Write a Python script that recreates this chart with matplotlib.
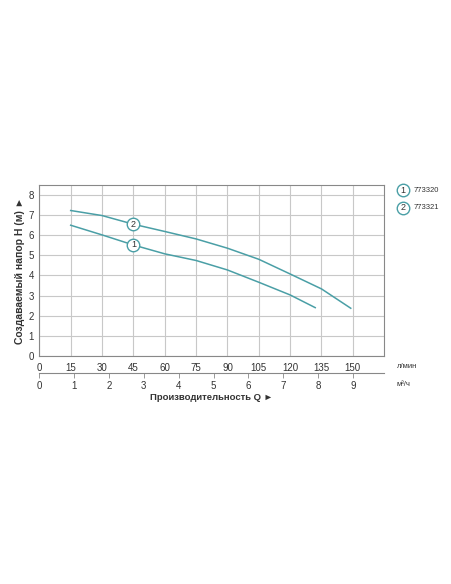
import matplotlib.pyplot as plt
import numpy as np

plt.rcParams['font.family'] = ['Liberation Sans', 'DejaVu Sans']

# flow, l/min and head, m
q1 = [15, 30, 45, 60, 75, 90, 105, 120, 132]
h1 = [6.49, 6.01, 5.51, 5.07, 4.74, 4.27, 3.66, 3.03, 2.40]
q2 = [15, 30, 45, 60, 75, 90, 105, 120, 135, 149]
h2 = [7.22, 6.97, 6.54, 6.18, 5.81, 5.35, 4.80, 4.07, 3.33, 2.37]

models = ['773320', '773321']
lmin_ticks = list(range(0, 151, 15))
m3h_ticks = list(range(0, 10))
h_ticks = list(range(0, 9))

line_col = '#4a9fa6'
text_col = '#333333'
grid_col = '#c8c8c8'

fig = plt.figure(figsize=(4.52, 5.84), dpi=100)
ax = fig.add_axes([0.087, 0.3904, 0.763, 0.2933])

ax.plot(q1, h1, color=line_col, lw=1.1)
ax.plot(q2, h2, color=line_col, lw=1.1)

# numbered circles on curves
for q, h, n in [(45, 5.51, '1'), (45, 6.54, '2')]:
    ax.plot(q, h, 'o', ms=9, mfc='white', mec=line_col, mew=1.0, zorder=4)
    ax.text(q, h, n, ha='center', va='center', fontsize=6.5, color=text_col, zorder=5)

ax.set_xlim(0, 165)
ax.set_ylim(0, 8.5)
ax.set_xticks(lmin_ticks)
ax.set_yticks(h_ticks)
ax.grid(True, color=grid_col, lw=0.8)
ax.set_axisbelow(True)
for s in ax.spines.values():
    s.set_color('#888888')
    s.set_linewidth(0.8)
ax.tick_params(axis='both', length=0, labelsize=7, colors=text_col, pad=4)
ax.tick_params(axis='x', pad=5)

# second flow axis in m3/h
sec = ax.secondary_xaxis(-0.1, functions=(lambda x: x * 60 / 1000, lambda x: x * 1000 / 60))
sec.set_xticks(m3h_ticks)
sec.spines['bottom'].set_color('#888888')
sec.spines['bottom'].set_linewidth(0.8)
sec.tick_params(axis='x', direction='out', length=3.5, width=0.6, color='#888888',
                labelsize=7, labelcolor=text_col, pad=2)

ax.text(1.037, -0.062, 'л/мин', transform=ax.transAxes, fontsize=5.5, color=text_col, va='center')
ax.text(1.037, -0.165, 'м³/ч', transform=ax.transAxes, fontsize=5.5, color=text_col, va='center')

ax.set_ylabel('Создаваемый напор H (м) ►', fontsize=7.5, fontweight='bold', color=text_col, labelpad=2)
ax.text(0.5, -0.24, 'Производительность Q ►', transform=ax.transAxes, ha='center',
        va='center', fontsize=6.8, fontweight='bold', color=text_col)

# legend
for i, m in enumerate(models):
    y = 0.967 - i * 0.1
    ax.plot(1.055, y, 'o', ms=9, mfc='white', mec=line_col, mew=1.0,
            transform=ax.transAxes, clip_on=False)
    ax.text(1.055, y, str(i + 1), transform=ax.transAxes, ha='center', va='center',
            fontsize=6.5, color=text_col)
    ax.text(1.085, y, m, transform=ax.transAxes, va='center', fontsize=5.5, color=text_col)

fig.savefig('out.png', dpi=100, facecolor='white')
